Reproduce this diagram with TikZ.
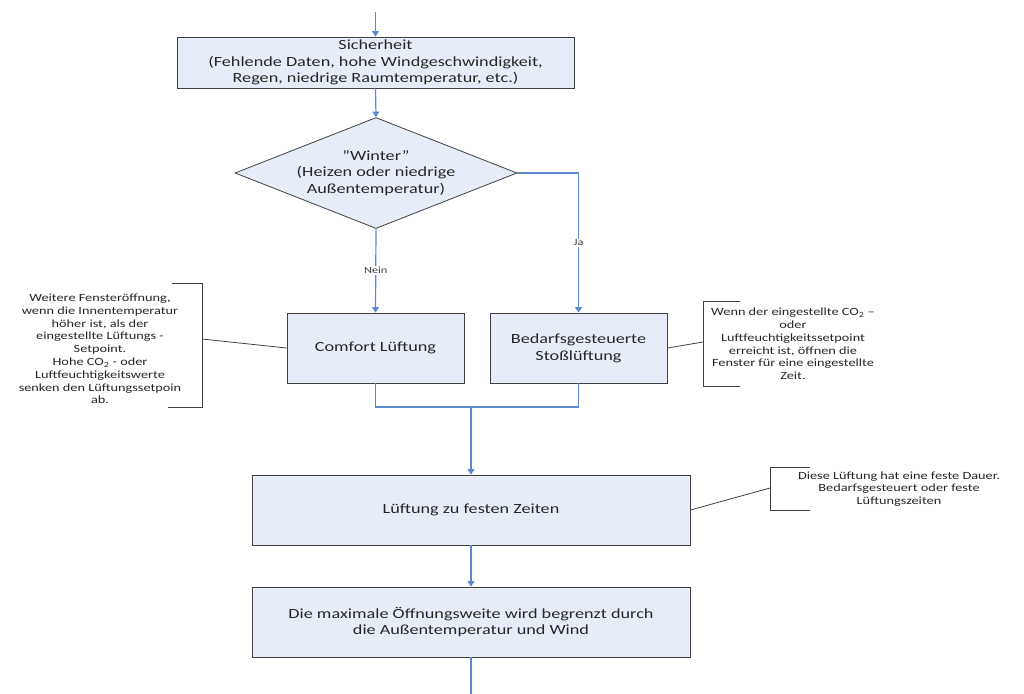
\documentclass[tikz,border=0pt]{standalone}
\usepackage{fontspec}
\setmainfont{Carlito}[FakeStretch=1.3]
\usetikzlibrary{positioning,shapes.geometric,arrows.meta}
\definecolor{boxfill}{HTML}{E7EDF8}
\definecolor{boxline}{HTML}{404040}
\definecolor{flow}{HTML}{5B89CF}

\begin{document}
\begin{tikzpicture}[x=1pt,y=-1pt,
  blk/.style={draw=boxline,fill=boxfill,line width=0.9pt,align=center,inner sep=0pt,text=black!85,font=\fontsize{14}{16.7}\selectfont},
  dec/.style={diamond,draw=boxline,fill=boxfill,line width=0.8pt,aspect=2.54,inner sep=0pt,minimum width=282pt,minimum height=111pt,align=center,text=black!85,font=\fontsize{14}{16.7}\selectfont},
  flw/.style={draw=flow,line width=1.2pt,-{Triangle[width=7pt,length=5.5pt]}},
  lin/.style={draw=flow,line width=1.2pt},
  lbl/.style={fill=white,inner sep=1pt,text=black!75,font=\fontsize{9.5}{11}\selectfont},
  note/.style={align=center,text=black!85,font=\fontsize{11}{12.8}\selectfont},
  brk/.style={draw=black!75,line width=0.8pt}]
  \useasboundingbox (0,0) rectangle (1024,693);

  % main flow
  \node[blk,minimum width=397pt,minimum height=51pt] (sicher) at (375.5,62.5) {Sicherheit\\(Fehlende Daten, hohe Windgeschwindigkeit,\\Regen, niedrige Raumtemperatur, etc.)};
  \node[dec] (winter) at (376,173) {''Winter''\\(Heizen oder niedrige\\Außentemperatur)};
  \node[blk,minimum width=177pt,minimum height=70pt] (comfort) at (375.5,348) {Comfort Lüftung};
  \node[blk,minimum width=177pt,minimum height=70pt] (stoss) at (578.5,348) {Bedarfsgesteuerte\\Stoßlüftung};
  \node[blk,minimum width=438pt,minimum height=70pt] (festzeit) at (471,510) {Lüftung zu festen Zeiten};
  \node[blk,minimum width=438pt,minimum height=70pt] (maxweite) at (471,622) {Die maximale Öffnungsweite wird begrenzt durch\\die Außentemperatur und Wind};

  \coordinate (zulauf) at (375.5,12);
  \coordinate (merge) at (471,407);
  \coordinate (ablauf) at (471,700);

  \draw[flw] (zulauf) -- (sicher.north);
  \draw[flw] (sicher.south) -- (winter.north);
  \draw[flw] (winter.south) -- node[lbl]{Nein} (comfort.north);
  \draw[flw] (winter.east) -| node[lbl,pos=0.75]{Ja} (stoss.north);
  \draw[lin] (comfort.south) |- (merge) -| (stoss.south);
  \draw[flw] (merge) -- (festzeit.north);
  \draw[flw] (festzeit.south) -- (maxweite.north);
  \draw[lin] (maxweite.south) -- (ablauf);

  % annotations
  \node[note] (notecomfort) at (100,349) {Weitere Fensteröffnung,\\wenn die Innentemperatur\\höher ist, als der\\eingestellte Lüftungs -\\Setpoint.\\Hohe CO\textsubscript{2} - oder\\Luftfeuchtigkeitswerte\\senken den Lüftungssetpoin\\ab.};
  \node[note] (notestoss) at (793,344) {Wenn der eingestellte CO\textsubscript{2} --\\oder\\Luftfeuchtigkeitssetpoint\\erreicht ist, öffnen die\\Fenster für eine eingestellte\\Zeit.};
  \node[note] (notefest) at (899,489) {Diese Lüftung hat eine feste Dauer.\\Bedarfsgesteuert oder feste\\Lüftungszeiten};

  \draw[brk] (172,283) -- (202,283) -- (202,407) -- (168,407);
  \draw[brk] (740,301) -- (703,301) -- (703,386) -- (740,386);
  \draw[brk] (810,467) -- (770,467) -- (770,510) -- (810,510);
  \coordinate (bkcomfort) at (202,339);
  \coordinate (bkstoss) at (703,342);
  \coordinate (bkfest) at (770,488);
  \draw[brk] (comfort.west) -- (bkcomfort);
  \draw[brk] (stoss.east) -- (bkstoss);
  \draw[brk] (festzeit.east) -- (bkfest);
\end{tikzpicture}
\end{document}
